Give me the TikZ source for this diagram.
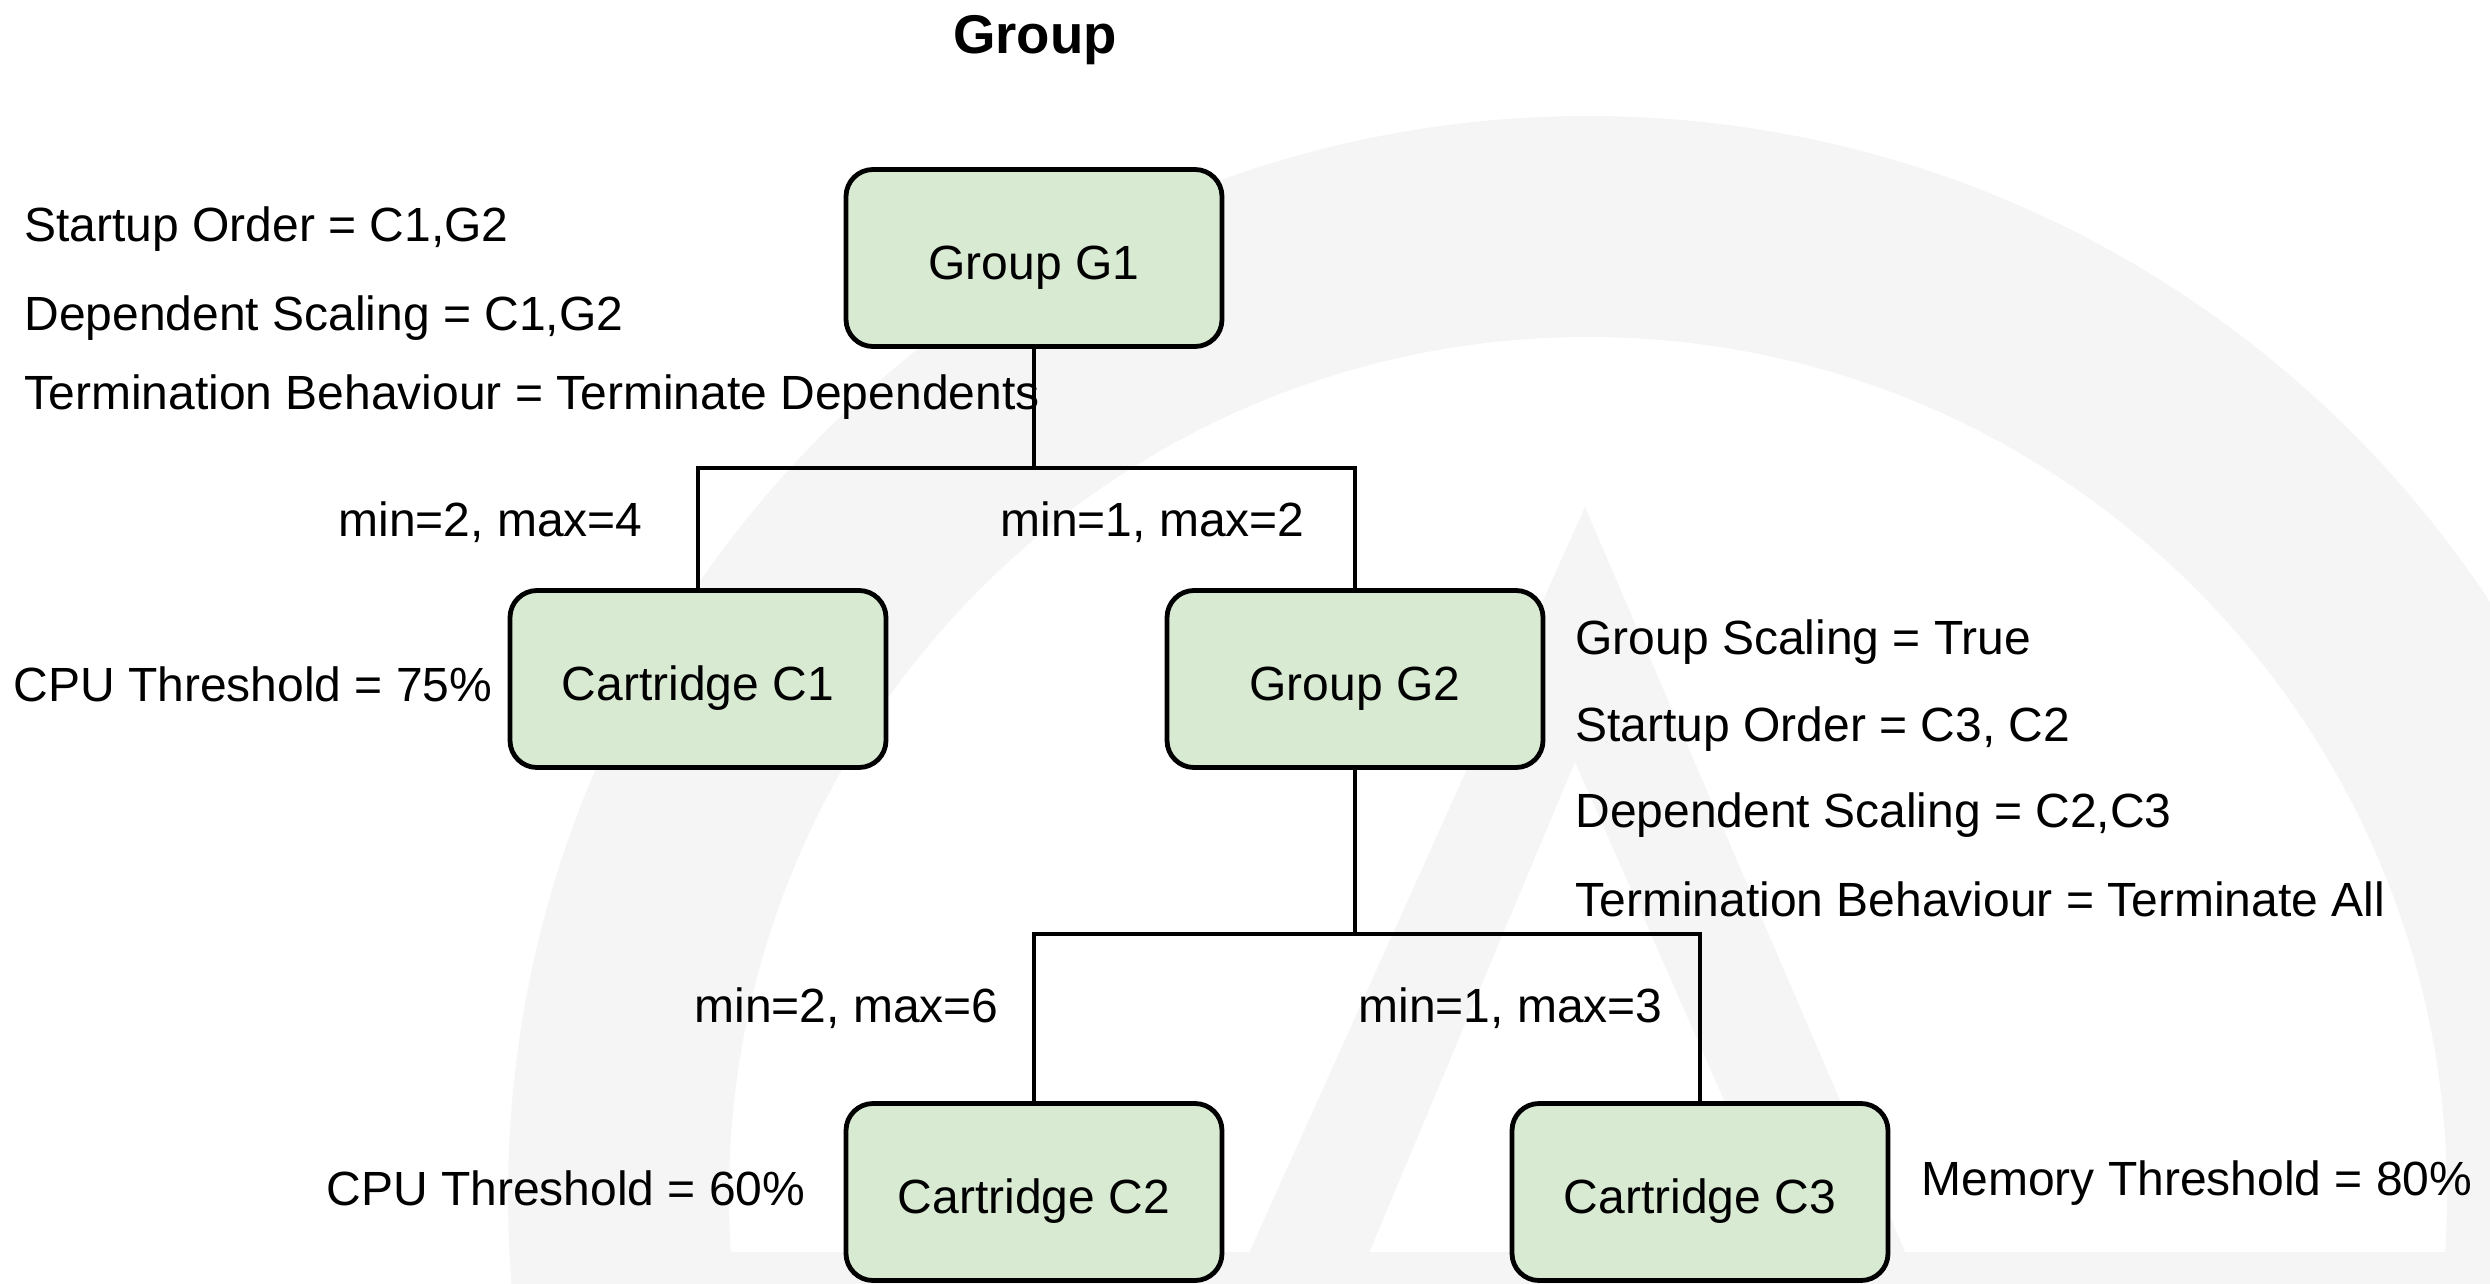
\documentclass[tikz,border=0pt]{standalone}
\usepackage{fontspec}
\setmainfont{Liberation Sans}
\definecolor{boxgreen}{RGB}{217,234,211}
\definecolor{wmgrey}{RGB}{245,245,245}
\begin{document}
\begin{tikzpicture}[x=0.5pt,y=-0.5pt,
  box/.style={draw=black, line width=2.4pt, fill=boxgreen, rounded corners=13.5pt,
    minimum width=188pt, minimum height=88.5pt, inner sep=0pt,
    text height=21.2pt, text depth=0pt,
    font=\fontsize{24pt}{28pt}\selectfont},
  lbl/.style={inner sep=0pt, font=\fontsize{24pt}{28pt}\selectfont},
  link/.style={draw=black, line width=2pt},
  wm/.style={fill=wmgrey}]
\useasboundingbox (0,0) rectangle (2490,1284);

% faint logo in the background
\begin{scope}
  \clip (0,0) rectangle (2490,1284);
  \fill[wm, even odd rule] (1588,1196) circle[radius=540pt] (1588,1196) circle[radius=429.5pt];
  \fill[wm, even odd rule] (1585,507) -- (1235,1284) -- (1919,1284) -- cycle
                           (1575,762) -- (1356,1284) -- (1805,1284) -- cycle;
  \fill[wm] (512,1252) rectangle (2490,1284);
\end{scope}

% title
\node[inner sep=0pt, anchor=base, font=\fontsize{27.3pt}{32pt}\selectfont\bfseries] (title) at (1035,54) {Group};

% nodes
\node[box] (g1) at (1034,258) {Group G1};
\node[box] (c1) at (698,679) {Cartridge C1};
\node[box] (g2) at (1355,679) {Group G2};
\node[box] (c2) at (1034,1192) {Cartridge C2};
\node[box] (c3) at (1700,1192) {Cartridge C3};

% junctions
\coordinate (j1) at (1034,468);
\coordinate (j2) at (1355,934);

% connectors
\draw[link] (g1.south) -- (j1);
\draw[link] (c1.north) |- (j1) -| (g2.north);
\draw[link] (g2.south) -- (j2);
\draw[link] (c2.north) |- (j2) -| (c3.north);

% policies of G1
\node[lbl, anchor=base west] (g1so) at (24,242) {Startup Order = C1,G2};
\node[lbl, anchor=base west] (g1ds) at (24,330) {Dependent Scaling = C1,G2};
\node[lbl, anchor=base west] (g1tb) at (24,409) {Termination Behaviour = Terminate Dependents};

% limits under G1
\node[lbl, anchor=base east] (lim1) at (643,536) {min=2, max=4};
\node[lbl, anchor=base west] (lim2) at (1000,536) {min=1, max=2};

% C1 policy
\node[lbl, anchor=base west] (c1cpu) at (13,701) {CPU Threshold = 75\%};

% policies of G2
\node[lbl, anchor=base west] (g2gs) at (1575,654) {Group Scaling = True};
\node[lbl, anchor=base west] (g2so) at (1575,741) {Startup Order = C3, C2};
\node[lbl, anchor=base west] (g2ds) at (1575,827) {Dependent Scaling = C2,C3};
\node[lbl, anchor=base west] (g2tb) at (1575,916) {Termination Behaviour = Terminate All};

% limits under G2
\node[lbl, anchor=base west] (lim3) at (694,1022) {min=2, max=6};
\node[lbl, anchor=base west] (lim4) at (1358,1022) {min=1, max=3};

% cartridge policies
\node[lbl, anchor=base west] (c2cpu) at (326,1205) {CPU Threshold = 60\%};
\node[lbl, anchor=base west] (c3mem) at (1921,1195) {Memory Threshold = 80\%};
\end{tikzpicture}
\end{document}
